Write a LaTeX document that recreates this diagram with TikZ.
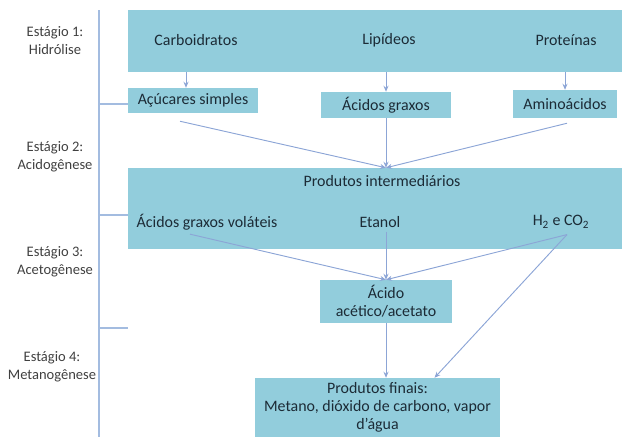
\documentclass[tikz,border=0pt]{standalone}
\usepackage{fontspec}
\setmainfont{Carlito}
\usetikzlibrary{arrows.meta,calc,fit}
\definecolor{BioFill}{HTML}{92CDDC}
\definecolor{BioInk}{HTML}{1C2B36}
\definecolor{BioArrow}{HTML}{8CA5D6}
\definecolor{BioRule}{HTML}{A3BCE0}
\definecolor{BioLabel}{HTML}{404040}
\tikzset{
  every node/.style={font=\fontsize{13.6}{15.3}\selectfont, text=BioInk},
  panel/.style={fill=BioFill, inner sep=0pt},
  box/.style={fill=BioFill, inner sep=0pt, align=center},
  stage/.style={font=\fontsize{12.4}{15.3}\selectfont, text=BioLabel, align=center},
  flow/.style={-{Stealth[length=1.8mm,width=1.5mm]}, draw=BioArrow, line width=0.8pt},
  rule/.style={draw=BioRule, line width=0.9pt},
}

\begin{document}
\begin{tikzpicture}[x=0.03cm,y=-0.03cm]
  % pixel grid of the figure: x to the right, y downwards
  \useasboundingbox (0,0) rectangle (622,437);
  % stage bracket on the left
  \draw[rule] (99,10) -- (99,437);
  \foreach \y in {104,215,328}
    \draw[rule] (99,\y) -- (128,\y);
  \node[stage] (estagio1) at (55,41) {Estágio 1:\\Hidrólise};
  \node[stage] (estagio2) at (55,157) {Estágio 2:\\Acidogênese};
  \node[stage] (estagio3) at (55,262) {Estágio 3:\\Acetogênese};
  \node[stage] (estagio4) at (52,367) {Estágio 4:\\Metanogênese};
  % panels
  \node[panel, fit={(128,10) (622,72)}] (polimeros) {};
  \node[panel, fit={(128,168) (622,249)}] (inter) {};
  \node (carb) at (196,40) {Carboidratos};
  \node (lip) at (389,40) {Lipídeos};
  \node (prot) at (566,40) {Proteínas};
  \node (intertitle) at (382,181) {Produtos intermediários};
  \node (agv) at (207,222) {Ácidos graxos voláteis};
  \node (etanol) at (380,222) {Etanol};
  \node (h2co2) at (561,222) {H\textsubscript{2} e CO\textsubscript{2}};
  % boxes
  \node[box, minimum width=3.9cm, minimum height=0.75cm] (acucares) at (193,100.5) {Açúcares simples};
  \node[box, minimum width=3.9cm, minimum height=0.78cm] (graxos) at (386,105) {Ácidos graxos};
  \node[box, minimum width=3.12cm, minimum height=0.84cm] (amino) at (565,104) {Aminoácidos};
  \node[box, minimum width=3.96cm, minimum height=1.29cm] (acido) at (386,301.5) {Ácido\\acético/acetato};
  \node[box, minimum width=7.35cm, minimum height=1.77cm] (finais) at (377.5,407.5)
    {Produtos finais:\\Metano, dióxido de carbono, vapor\\d'água};
  % hidrolise
  \draw[flow] ($(acucares.north)+(-7,-16)$) -- ($(acucares.north)+(-7,0)$);
  \draw[flow] (polimeros.south -| graxos.north) -- (graxos.north);
  \draw[flow] (polimeros.south -| amino.north) -- (amino.north);
  % acidogenese
  \draw[flow] ($(acucares.south)+(-13,8)$) -- (inter.north -| graxos.south);
  \draw[flow] (graxos.south) -- (inter.north -| graxos.south);
  \draw[flow] ($(amino.south)+(2,5)$) -- (inter.north -| graxos.south);
  % acetogenese
  \draw[flow] ($(agv.south)+(-17,0)$) -- (acido.north);
  \draw[flow] (etanol.south -| acido.north) -- (acido.north);
  \draw[flow] ($(h2co2.south)+(6,2)$) -- (acido.north);
  % metanogenese
  \draw[flow] ($(h2co2.south)+(6,2)$) -- ($(finais.north)+(57,0)$);
  \draw[flow] (acido.south) -- (acido.south |- finais.north);
\end{tikzpicture}
\end{document}
